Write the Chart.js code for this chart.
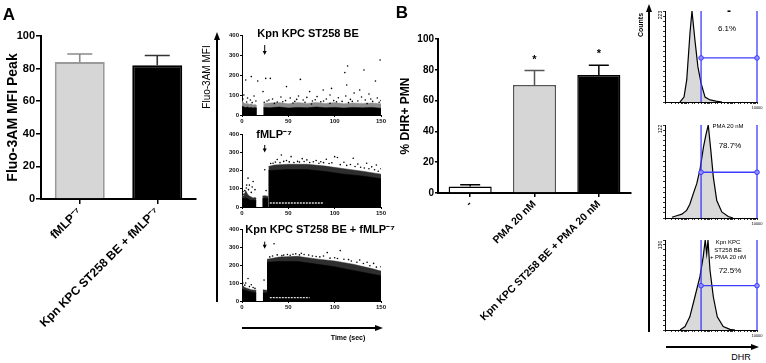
<!DOCTYPE html>
<html><head><meta charset="utf-8">
<script src="https://cdn.jsdelivr.net/npm/chart.js@4.4.1/dist/chart.umd.min.js"></script>
<style>
html,body{margin:0;padding:0;background:#fff;}
body{width:766px;height:363px;position:relative;overflow:hidden;font-family:"Liberation Sans",Arial,sans-serif;}
canvas{position:absolute;}
.t{position:absolute;white-space:nowrap;color:#000;line-height:1;}
</style></head><body>
<script>
// ---------------- DATA ----------------
// Panel A – bar chart
const aCategories = ['fMLP⁻⁷', 'Kpn KPC ST258 BE + fMLP⁻⁷'];
const aMeans = [84, 82];
const aErrors = [5, 6];
const aYTicks = [0, 20, 40, 60, 80, 100];

// Panel A – time courses (Fluo-3AM MFI vs time, sec)
const timeTicks = [0, 50, 100, 150];
const mfiTicks = [0, 100, 200, 300, 400];
const scatterTitles = ['Kpn KPC ST258 BE', 'fMLP⁻⁷', 'Kpn KPC ST258 BE + fMLP⁻⁷'];
const stimulusTime = [24.5, 24.5, 24.5];
const stimulusArrowFrom = [350, 340, 330];
const stimulusArrowTo = [300, 298, 290];

// dense cloud envelopes [time, MFI] per acquisition segment
const s1Core = [
  [[0,45],[2,40],[4,38],[6,40],[8,36],[10,38],[12,35],[14,37],[16,35]],
  [[23,38],[30,36],[40,40],[50,35],[60,38],[70,36],[80,40],[90,36],[100,38],[110,35],[120,38],[130,36],[140,38],[150,34]]
];
const s1Outer = [
  [[0,72],[2,60],[4,56],[6,58],[8,54],[10,56],[12,50],[14,53],[16,48]],
  [[23,58],[30,60],[40,62],[50,56],[60,62],[70,58],[80,63],[90,58],[100,62],[110,56],[120,60],[130,58],[140,60],[150,56]]
];
const s1Dots = [[4,175],[10,192],[17,170],[25.6,183],[30.6,183],[63,178],[111,212],[114,245],[113,150],[131.6,225],[144,170],[149,275],
  [48,142],[73,117],[87.6,125],[96.6,133],[127,125],[22.7,117],[2,100],[6,85],[9,75],[13,95],[27,70],[33,80],[38,65],[42,90],[47,72],
  [52,85],[57,68],[61,95],[66,75],[70,88],[76,70],[81,92],[85,66],[91,80],[95,100],[99,72],[104,86],[108,68],[112,95],[117,78],[121,110],
  [125,70],[129,90],[133,75],[137,105],[141,68],[146,85],[150,72],[35,58],[55,60],[75,55],[95,58],[115,62],[135,57],
  [1,80],[5,65],[11,62],[15,70],[24,64],[29,75],[44,66],[59,78],[68,64],[79,76],[88,70],[102,66],[119,68],[139,80],[148,64]];

const s2Core = [
  [[0,50],[2,45],[4,50],[6,45],[8,40],[10,35],[12,38],[14,35],[15.5,35]],
  [[22,45],[25,48],[28.5,45]],
  [[28.5,200],[35,202],[50,205],[70,205],[90,195],[110,180],[130,170],[150,155]]
];
const s2Outer = [
  [[0,65],[2,60],[4,90],[6,70],[8,60],[10,55],[12,50],[14,52],[15.5,48]],
  [[22,60],[25,62],[28.5,58]],
  [[28.5,222],[35,230],[50,234],[70,234],[90,224],[110,210],[130,196],[150,180]]
];
const s2Light = [[30,22],[88,22]];
const s2Dots = [[6.5,158],[12,140],[4.7,104],[24.5,204],[42.5,285],[53,276],[91,262],[100,276],[103,271],[134.5,240],[120,267],[70,258],
  [33.5,240],[3,90],[8,120],[10,80],[2,70],[14,95],[26,90],[60,250],[80,255],[110,245],[145,230],[150,210],[38,260],[48,255],[85,248],
  [125,235],[140,220],[65,265],
  [31,238],[36,246],[41,243],[45,250],[51,247],[56,244],[62,246],[67,249],[73,244],[77,248],[83,240],[88,243],[94,238],[97,242],
  [106,232],[113,228],[117,233],[122,222],[128,218],[132,214],[137,210],[143,204],[147,196],[5,120],[7,95],[11,110],[1,85]];

const s3Core = [
  [[0,65],[3,60],[6,55],[10,50],[15.5,45]],
  [[22.5,45],[27,45]],
  [[27,215],[40,220],[60,220],[80,205],[100,190],[120,170],[140,150],[150,140]]
];
const s3Outer = [
  [[0,90],[3,75],[6,70],[10,62],[15.5,60]],
  [[22.5,62],[27,60]],
  [[27,232],[40,244],[60,248],[80,234],[100,222],[120,204],[140,180],[150,166]]
];
const s3Light = [[30,19],[73,19]];
const s3Dots = [[34.6,318],[92,269],[106,280],[6.5,125],[3,88],[23.8,116],[64,265],[80,247],[127,228],[142,209],[1,100],[8,80],
  [12,75],[45,255],[55,260],[72,255],[100,240],[115,230],[135,215],[150,190],[30,245],[88,250],
  [33,250],[38,256],[43,252],[49,258],[52,254],[58,262],[62,256],[67,258],[76,250],[84,245],[95,238],[103,236],[110,232],
  [118,222],[124,215],[131,208],[138,196],[145,188],[4,100],[10,90],[14,70]];

// Panel B – bar chart
const bCategories = ['-', 'PMA 20 nM', 'Kpn KPC ST258 BE + PMA 20 nM'];
const bMeans = [4.3, 70.2, 76.7];
const bErrors = [1.1, 9.3, 6.3];
const bSig = ['', '*', '*'];
const bYTicks = [0, 20, 40, 60, 80, 100];

// Panel B – DHR histograms [DHR fluorescence, counts]
const histMax = [223, 122, 130];
const histLabels = ['-', 'PMA 20 nM', 'Kpn KPC|ST258 BE|+ PMA 20 nM'];
const histPercent = ['6.1%', '78.7%', '72.5%'];
const gateLow = 37, gateHigh = 10000;
const gateLevel = [108, 60, 64];
const h1 = [[4.5,0],[6.7,12],[8.8,54],[12.2,169],[14.9,223],[20,152],[27,86],[37,46],[55,12],[91,5],[165,2],[300,0]];
const h2 = [[2,1],[3.2,3],[5.4,5],[8.7,10],[12,18],[17,32],[24,45],[33,63],[47,93],[60,109],[76,122],[98,89],[126,54],[178,23],[295,8],[562,2],[912,0]];
const h3 = [[4.5,0],[7.4,5],[12,19],[20,48],[33,77],[46,106],[56,130],[65,110],[74,130],[90,87],[126,48],[188,19],[340,5],[670,1],[1100,0]];

// ---------------- HELPERS ----------------
Chart.defaults.font.family = "'Liberation Sans', Arial, sans-serif";
Chart.defaults.color = '#000';
const toXY = arr => arr.map(p => ({x: p[0], y: p[1]}));

function makeCanvas(l, t, w, h) {
  const c = document.createElement('canvas');
  c.width = w; c.height = h;
  c.style.left = l + 'px'; c.style.top = t + 'px';
  c.style.width = w + 'px'; c.style.height = h + 'px';
  document.body.appendChild(c);
  return c;
}
function text(str, cx, cy, font, rot) {
  const d = document.createElement('div');
  d.className = 't';
  d.textContent = str;
  d.style.font = font;
  d.style.lineHeight = '1';
  d.style.left = cx + 'px'; d.style.top = cy + 'px';
  d.style.transform = 'translate(-50%,-50%)' + (rot ? ' rotate(' + rot + 'deg)' : '');
  document.body.appendChild(d);
}
function bar(x, y, w, h) {
  const d = document.createElement('div');
  d.style.cssText = `position:absolute;left:${x}px;top:${y}px;width:${w}px;height:${h}px;background:#000`;
  document.body.appendChild(d);
}
function headUp(cx, ty, w, h) {
  const d = document.createElement('div');
  d.style.cssText = `position:absolute;left:${cx - w/2}px;top:${ty}px;width:0;height:0;border-left:${w/2}px solid transparent;border-right:${w/2}px solid transparent;border-bottom:${h}px solid #000`;
  document.body.appendChild(d);
}
function headRight(rx, cy, w, h) {
  const d = document.createElement('div');
  d.style.cssText = `position:absolute;left:${rx - h}px;top:${cy - w/2}px;width:0;height:0;border-top:${w/2}px solid transparent;border-bottom:${w/2}px solid transparent;border-left:${h}px solid #000`;
  document.body.appendChild(d);
}

const errorBarPlugin = {
  id: 'errbars',
  afterDatasetsDraw(chart, args, o) {
    const ctx = chart.ctx, ys = chart.scales.y;
    const meta = chart.getDatasetMeta(0);
    const vals = chart.data.datasets[0].data;
    ctx.save();
    meta.data.forEach((el, i) => {
      const yb = ys.getPixelForValue(vals[i]);
      const yt = ys.getPixelForValue(vals[i] + o.errors[i]);
      ctx.strokeStyle = o.colors[i]; ctx.lineWidth = o.width;
      ctx.beginPath();
      ctx.moveTo(el.x, yb); ctx.lineTo(el.x, yt);
      ctx.moveTo(el.x - o.cap / 2, yt); ctx.lineTo(el.x + o.cap / 2, yt);
      ctx.stroke();
      if (o.sig && o.sig[i]) {
        ctx.fillStyle = '#000';
        ctx.font = "bold 11px 'Liberation Sans', Arial, sans-serif";
        ctx.textAlign = 'center'; ctx.textBaseline = 'alphabetic';
        ctx.fillText(o.sig[i], el.x, yt - 8);
      }
    });
    ctx.restore();
  }
};

const stimArrowPlugin = {
  id: 'stim',
  afterDatasetsDraw(chart, args, o) {
    const ctx = chart.ctx, xs = chart.scales.x, ys = chart.scales.y;
    const x = xs.getPixelForValue(o.t), y1 = ys.getPixelForValue(o.from), y2 = ys.getPixelForValue(o.to);
    ctx.save();
    ctx.strokeStyle = '#000'; ctx.fillStyle = '#000'; ctx.lineWidth = 1;
    ctx.beginPath(); ctx.moveTo(x, y1); ctx.lineTo(x, y2 - 3); ctx.stroke();
    ctx.beginPath(); ctx.moveTo(x - 2, y2 - 4); ctx.lineTo(x + 2, y2 - 4); ctx.lineTo(x, y2); ctx.closePath(); ctx.fill();
    ctx.restore();
  }
};

const noPlug = {legend: {display: false}, tooltip: {enabled: false}};

// ---------------- PANEL A BAR ----------------
new Chart(makeCanvas(0, 0, 220, 363), {
  type: 'bar',
  data: {labels: aCategories, datasets: [{data: aMeans,
    backgroundColor: ['#d6d6d6', '#000000'], borderColor: ['#9a9a9a', '#000000'], borderWidth: 2,
    barPercentage: 0.645, categoryPercentage: 1}]},
  options: {
    responsive: false, animation: false, devicePixelRatio: 1,
    layout: {padding: {left: 0, top: 36, right: 24, bottom: 0}},
    plugins: Object.assign({errbars: {errors: aErrors, colors: ['#8a8a8a', '#333333'], width: 1.6, cap: 25}}, noPlug),
    scales: {
      x: {grid: {drawOnChartArea: false, offset: false, color: '#000', lineWidth: 1.5, tickLength: 5},
          border: {color: '#000', width: 2},
          ticks: {font: {size: 12, weight: 'bold'}, color: '#000', minRotation: 45, maxRotation: 45, autoSkip: false, padding: 1},
          afterFit: s => { s.height = 164; }},
      y: {min: 0, max: 100, afterBuildTicks: s => { s.ticks = aYTicks.map(v => ({value: v})); },
          grid: {drawOnChartArea: false, color: '#000', lineWidth: 1.5, tickLength: 5},
          border: {color: '#000', width: 2},
          ticks: {font: {size: 11, weight: 'bold'}, color: '#000', padding: 1},
          title: {display: true, text: 'Fluo-3AM MFI Peak', font: {size: 14, weight: 'bold'}, color: '#000', padding: {top: 5, bottom: 0}},
          afterFit: s => { s.width = 41; }}
    }
  },
  plugins: [errorBarPlugin]
});

// ---------------- PANEL A TIME COURSES ----------------
function scatterChart(l, t, w, h, areaTop, areaBottom, core, outer, outerColor, light, dots, idx) {
  const ds = [];
  outer.forEach(seg => ds.push({type: 'line', data: toXY(seg), fill: 'origin', backgroundColor: outerColor, borderColor: outerColor, borderWidth: 0.5, pointRadius: 0, order: 3}));
  core.forEach(seg => ds.push({type: 'line', data: toXY(seg), fill: 'origin', backgroundColor: '#000', borderColor: '#000', borderWidth: 0.5, pointRadius: 0, order: 2}));
  if (light) ds.push({type: 'line', data: toXY(light), fill: false, borderColor: 'rgba(255,255,255,0.85)', borderWidth: 1.3, borderDash: [2, 1], pointRadius: 0, order: 1});
  ds.push({type: 'scatter', data: toXY(dots), pointRadius: 0.8, backgroundColor: '#000', borderWidth: 0, order: 0});
  new Chart(makeCanvas(l, t, w, h), {
    type: 'scatter',
    data: {datasets: ds},
    options: {
      responsive: false, animation: false, devicePixelRatio: 1,
      layout: {padding: {left: 0, top: areaTop - t, right: 9, bottom: 0}},
      plugins: Object.assign({stim: {t: stimulusTime[idx], from: stimulusArrowFrom[idx], to: stimulusArrowTo[idx]}}, noPlug),
      scales: {
        x: {type: 'linear', min: 0, max: 150, afterBuildTicks: s => { s.ticks = timeTicks.map(v => ({value: v})); },
            grid: {drawOnChartArea: false, color: '#000', lineWidth: 1, tickLength: 2},
            border: {color: '#000', width: 1},
            ticks: {font: {size: 6, weight: 'bold'}, color: '#111', padding: 1, maxRotation: 0},
            afterFit: s => { s.height = t + h - areaBottom; }},
        y: {min: 0, max: 400, afterBuildTicks: s => { s.ticks = mfiTicks.map(v => ({value: v})); },
            grid: {drawOnChartArea: false, color: '#000', lineWidth: 1, tickLength: 2},
            border: {color: '#000', width: 1},
            ticks: {font: {size: 6, weight: 'bold'}, color: '#111', padding: 1},
            afterFit: s => { s.width = 22; }}
      }
    },
    plugins: [stimArrowPlugin]
  });
}
scatterChart(220, 25, 170, 105, 35, 115, s1Core, s1Outer, '#8c8c8c', null, s1Dots, 0);
scatterChart(220, 125, 170, 100, 134, 207, s2Core, s2Outer, '#2e2e2e', s2Light, s2Dots, 1);
scatterChart(220, 222, 170, 95, 229, 301, s3Core, s3Outer, '#2e2e2e', s3Light, s3Dots, 2);

// ---------------- PANEL B BAR ----------------
new Chart(makeCanvas(390, 0, 250, 363), {
  type: 'bar',
  data: {labels: bCategories, datasets: [{data: bMeans,
    backgroundColor: ['#ffffff', '#d6d6d6', '#000000'], borderColor: ['#000000', '#555555', '#000000'], borderWidth: 1.5,
    barPercentage: 0.67, categoryPercentage: 1}]},
  options: {
    responsive: false, animation: false, devicePixelRatio: 1,
    layout: {padding: {left: 0, top: 39, right: 9, bottom: 0}},
    plugins: Object.assign({errbars: {errors: bErrors, colors: ['#000', '#555', '#000'], width: 1.5, cap: 20, sig: bSig}}, noPlug),
    scales: {
      x: {grid: {drawOnChartArea: false, offset: false, color: '#000', lineWidth: 1.5, tickLength: 4},
          border: {color: '#000', width: 2},
          ticks: {font: {size: 10.5, weight: 'bold'}, color: '#000', minRotation: 45, maxRotation: 45, autoSkip: false, padding: 1},
          afterFit: s => { s.height = 170; }},
      y: {min: 0, max: 100, afterBuildTicks: s => { s.ticks = bYTicks.map(v => ({value: v})); },
          grid: {drawOnChartArea: false, color: '#000', lineWidth: 1.5, tickLength: 3},
          border: {color: '#000', width: 2},
          ticks: {font: {size: 10, weight: 'bold'}, color: '#000', padding: 1},
          title: {display: true, text: '% DHR+ PMN', font: {size: 12, weight: 'bold'}, color: '#000', padding: {top: 8, bottom: 0}},
          afterFit: s => { s.width = 48; }}
    }
  },
  plugins: [errorBarPlugin]
});

// ---------------- PANEL B HISTOGRAMS ----------------
function gateLevelLine(gy) { return [[gateLow, gy], [gateHigh, gy]]; }
function histChart(t, h, areaTop, areaBottom, data, max, gy) {
  const blue = '#3c3cff';
  new Chart(makeCanvas(655, t, 111, h), {
    type: 'line',
    data: {datasets: [
      {data: toXY(gateLevelLine(gy)), borderColor: blue, borderWidth: 1.3, pointRadius: 2.3, pointBackgroundColor: '#8f8fff', pointBorderColor: blue, pointBorderWidth: 1, fill: false, clip: false, order: 0},
      {data: toXY([[gateLow, 0], [gateLow, max]]), borderColor: blue, borderWidth: 1.3, pointRadius: 0, fill: false, clip: false, order: 1},
      {data: toXY([[gateHigh, 0], [gateHigh, max]]), borderColor: blue, borderWidth: 1.3, pointRadius: 0, fill: false, clip: false, order: 1},
      {data: toXY(data), fill: 'origin', backgroundColor: '#d9d9d9', borderColor: '#000', borderWidth: 1.2, pointRadius: 0, order: 2}
    ]},
    options: {
      responsive: false, animation: false, devicePixelRatio: 1,
      layout: {padding: {left: 0, top: areaTop - t, right: 9, bottom: 0}},
      plugins: noPlug,
      scales: {
        x: {type: 'logarithmic', min: 1, max: 10000,
            grid: {drawOnChartArea: false, color: '#000', lineWidth: 0.8, tickLength: 2},
            border: {color: '#000', width: 1},
            ticks: {font: {size: 4}, color: '#000', padding: 1, autoSkip: false, maxRotation: 0,
                    callback: v => v === 10000 ? '10000' : ''},
            afterFit: s => { s.height = t + h - areaBottom; }},
        y: {min: 0, max: max,
            grid: {drawOnChartArea: false, color: '#000', lineWidth: 0.8, tickLength: 2},
            border: {color: '#000', width: 1},
            ticks: {display: false, count: 19},
            afterFit: s => { s.width = 10; }}
      }
    }
  });
}
histChart(0, 112, 11, 102, h1, histMax[0], gateLevel[0]);
histChart(115, 113, 125, 218, h2, histMax[1], gateLevel[1]);
histChart(230, 110, 240, 330, h3, histMax[2], gateLevel[2]);

// ---------------- TEXT & ARROWS ----------------
const F = "'Liberation Sans', Arial, sans-serif";
text('A', 9, 14, `bold 17px ${F}`);
text('B', 402, 12, `bold 17px ${F}`);
text(scatterTitles[0], 308, 33, `bold 11px ${F}`);
text(scatterTitles[1], 274, 134, `bold 11px ${F}`);
text(scatterTitles[2], 320, 229, `bold 11px ${F}`);
text('Fluo-3AM MFI', 207, 77, `10px ${F}`, -90);
text('Time (sec)', 348, 337, `bold 7px ${F}`);
text('Counts', 640, 25, `bold 7px ${F}`, -90);
text('DHR', 741, 357, `9px ${F}`);
// histogram annotations
text(String(histMax[0]), 660, 15, `5px ${F}`, -90);
text(String(histMax[1]), 660, 129, `5px ${F}`, -90);
text(String(histMax[2]), 660, 245, `5px ${F}`, -90);
text(histLabels[0], 729, 11, `bold 12px ${F}`);
text(histPercent[0], 727, 29, `8px ${F}`);
text(histLabels[1], 728, 126, `6px ${F}`);
text(histPercent[1], 730, 146, `8px ${F}`);
histLabels[2].split('|').forEach((s, i) => text(s, 728, 242 + i * 7.5, `6px ${F}`));
text(histPercent[2], 730, 271, `8px ${F}`);
// arrows
bar(242, 327, 133, 2); headRight(383, 328, 7, 8);
bar(216, 40, 2, 262); headUp(217, 32, 7, 8);
bar(648, 12, 2, 320); headUp(649, 4, 6, 8);
bar(666, 346, 85, 1.5); headRight(759, 347, 6, 8);
</script>
</body></html>
